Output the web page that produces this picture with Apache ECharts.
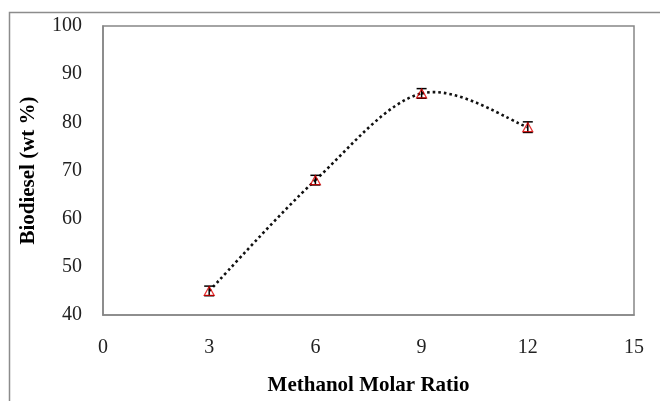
<!DOCTYPE html>
<html>
<head>
<meta charset="utf-8">
<script src="https://cdn.jsdelivr.net/npm/echarts@6/dist/echarts.min.js"></script>
<style>
  html, body { margin: 0; padding: 0; background: #fff; }
  #chart { width: 660px; height: 401px; }
</style>
</head>
<body>
<div id="chart"></div>
<script>
// data
const ratios = [3, 6, 9, 12];
const biodiesel = [45, 68, 86, 79];
const errors = [1.0, 1.0, 1.0, 1.1];
const xTicks = [0, 3, 6, 9, 12, 15];
const yTicks = [40, 50, 60, 70, 80, 90, 100];

const serif = '"Liberation Serif", "Times New Roman", serif';

let chart = echarts.init(document.getElementById('chart'));

let points = ratios.map((x, i) => [x, biodiesel[i]]);
let bars = ratios.map((x, i) => [x, biodiesel[i] - errors[i], biodiesel[i] + errors[i]]);

// spreadsheet-style smoothed trend line: one bezier per segment,
// control points taken from the neighbouring data points (in pixels)
function renderCurve(params, api) {
    let i = params.dataIndex;
    if (i >= points.length - 1) return null;
    let c = points.map(p => api.coord(p));
    let p0 = c[Math.max(i - 1, 0)];
    let p1 = c[i];
    let p2 = c[i + 1];
    let p3 = c[Math.min(i + 2, c.length - 1)];
    let t = 6;
    return {
        type: 'bezierCurve',
        shape: {
            x1: p1[0], y1: p1[1],
            x2: p2[0], y2: p2[1],
            cpx1: p1[0] + (p2[0] - p0[0]) / t,
            cpy1: p1[1] + (p2[1] - p0[1]) / t,
            cpx2: p2[0] - (p3[0] - p1[0]) / t,
            cpy2: p2[1] - (p3[1] - p1[1]) / t
        },
        style: { stroke: '#111', fill: null, lineWidth: 2.6, lineDash: [2.6, 3] }
    };
}

let option = {
    animation: false,
    backgroundColor: '#fff',
    graphic: [
        {
            type: 'rect',
            shape: { x: 9.5, y: 12.5, width: 700, height: 500 },
            style: { fill: 'none', stroke: '#8c8c8c', lineWidth: 1.5 },
            silent: true
        }
    ],
    grid: {
        left: 103, top: 26, right: 26, bottom: 85,
        show: true, borderColor: '#868686', borderWidth: 1.5
    },
    xAxis: {
        type: 'value',
        min: xTicks[0],
        max: xTicks[xTicks.length - 1],
        interval: 3,
        name: 'Methanol Molar Ratio',
        nameLocation: 'middle',
        nameGap: 60,
        nameTextStyle: { fontFamily: serif, fontWeight: 'bold', fontSize: 21, color: '#000' },
        axisLine: { show: true, lineStyle: { color: '#868686', width: 1.5 } },
        axisTick: { show: false },
        splitLine: { show: false },
        axisLabel: { fontFamily: serif, fontSize: 20, color: '#222', margin: 23 }
    },
    yAxis: {
        type: 'value',
        min: yTicks[0],
        max: yTicks[yTicks.length - 1],
        interval: 10,
        name: 'Biodiesel (wt %)',
        nameLocation: 'middle',
        nameGap: 64,
        nameRotate: 90,
        nameTextStyle: { fontFamily: serif, fontWeight: 'bold', fontSize: 21, color: '#000' },
        axisLine: { show: true, lineStyle: { color: '#868686', width: 1.5 } },
        axisTick: { show: false },
        splitLine: { show: false },
        axisLabel: { fontFamily: serif, fontSize: 20, color: '#222', margin: 21 }
    },
    series: [
        {
            // trend line
            type: 'custom',
            data: points,
            renderItem: renderCurve,
            z: 2
        },
        {
            // error bars
            type: 'custom',
            data: bars,
            renderItem: function(params, api) {
                let lo = api.coord([api.value(0), api.value(1)]);
                let hi = api.coord([api.value(0), api.value(2)]);
                let cap = 5;
                let st = { stroke: '#000', lineWidth: 1.5 };
                return {
                    type: 'group',
                    children: [
                        { type: 'line', shape: { x1: lo[0], y1: lo[1], x2: hi[0], y2: hi[1] }, style: st },
                        { type: 'line', shape: { x1: lo[0] - cap, y1: lo[1], x2: lo[0] + cap, y2: lo[1] }, style: st },
                        { type: 'line', shape: { x1: hi[0] - cap, y1: hi[1], x2: hi[0] + cap, y2: hi[1] }, style: st }
                    ]
                };
            },
            z: 3
        },
        {
            // markers
            type: 'scatter',
            data: points,
            symbol: 'triangle',
            symbolSize: [10, 9],
            itemStyle: { color: 'rgba(255,255,255,0)', borderColor: '#e00000', borderWidth: 1.2 },
            z: 4
        }
    ]
};

chart.setOption(option);
</script>
</body>
</html>
